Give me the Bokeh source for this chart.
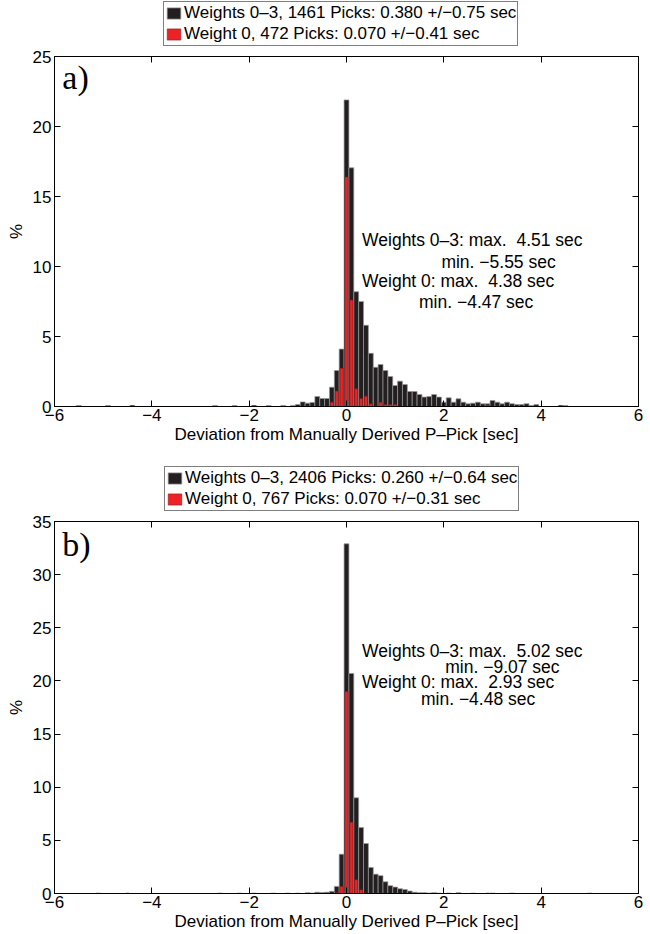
from bokeh.plotting import figure
from bokeh.models import Legend, LegendItem, Label, LinearAxis, FixedTicker, Range1d
from bokeh.layouts import column
from bokeh.embed import file_html
from bokeh.resources import INLINE

# ---------------- data (bin centres in sec, values in %) ----------------
a_all_x = [-5.5, -4.9, -4.4, -2.7, -2.3, -1.9, -1.6, -1.3, -1.1, -1.0, -0.9, -0.8, -0.7, -0.6,
           -0.5, -0.4, -0.3, -0.2, -0.1, 0.0, 0.1, 0.2, 0.3, 0.4, 0.5, 0.6, 0.7, 0.8, 0.9,
           1.0, 1.1, 1.2, 1.3, 1.4, 1.5, 1.6, 1.7, 1.8, 1.9, 2.0, 2.1, 2.2, 2.3, 2.4, 2.5,
           2.6, 2.7, 2.8, 2.9, 3.0, 3.1, 3.2, 3.3, 3.4, 3.5, 3.6, 3.7, 3.8, 3.9, 4.4, 4.5]
a_all_y = [0.07, 0.07, 0.07, 0.07, 0.07, 0.07, 0.07, 0.07, 0.07, 0.14, 0.33, 0.24, 0.29, 0.71,
           0.57, 0.57, 1.38, 2.57, 4.1, 21.9, 17.05, 8.2, 7.5, 5.8, 3.8, 2.8, 3.0, 2.57, 2.14,
           1.5, 1.81, 1.57, 1.07, 1.07, 0.86, 0.67, 0.71, 0.86, 0.67, 0.31, 0.62, 0.31, 0.55, 0.31, 0.19,
           0.24, 0.31, 0.19, 0.19, 0.43, 0.31, 0.19, 0.31, 0.2, 0.14, 0.14, 0.2, 0.07, 0.14, 0.07, 0.07]
a_w0_x = [-4.4, -1.9, -0.3, -0.2, -0.1, 0.0, 0.1, 0.2, 0.3, 0.4, 0.5, 0.7, 0.8, 0.9, 1.0, 2.9, 4.4]
a_w0_y = [0.07, 0.07, 0.31, 1.1, 2.74, 16.4, 7.6, 1.26, 0.57, 0.74, 0.19, 0.31, 0.14, 0.14, 0.14, 0.07, 0.07]

b_all_x = [-5.1, -2.6, -2.2, -1.9, -1.5, -1.2, -1.0, -0.8, -0.7, -0.6, -0.5, -0.4, -0.3, -0.2,
           -0.1, 0.0, 0.1, 0.2, 0.3, 0.4, 0.5, 0.6, 0.7, 0.8, 0.9, 1.0, 1.1, 1.2, 1.3, 1.4,
           1.5, 1.6, 1.7, 1.8, 1.9, 2.1, 2.3, 2.6, 3.0, 3.4, 5.0]
b_all_y = [0.04, 0.04, 0.04, 0.04, 0.04, 0.04, 0.04, 0.08, 0.04, 0.12, 0.1, 0.12, 0.2, 0.67,
           3.7, 32.9, 20.7, 9.0, 6.2, 4.7, 2.45, 1.82, 1.68, 1.1, 0.74, 0.6, 0.45, 0.38, 0.23, 0.12,
           0.08, 0.08, 0.04, 0.08, 0.04, 0.04, 0.08, 0.04, 0.04, 0.04, 0.04]
b_w0_x = [-4.5, -0.2, -0.1, 0.0, 0.1, 0.2, 0.3, 0.4, 0.5, 2.9]
b_w0_y = [0.04, 0.1, 0.67, 19.0, 6.7, 1.3, 0.35, 0.05, 0.04, 0.04]

x_ticks = [-6, -4, -2, 0, 2, 4, 6]
a_y_ticks = [0, 5, 10, 15, 20, 25]
b_y_ticks = [0, 5, 10, 15, 20, 25, 30, 35]

a_legend = ["Weights 0\u20133, 1461 Picks: 0.380 +/\u22120.75 sec",
            "Weight 0, 472 Picks: 0.070 +/\u22120.41 sec"]
b_legend = ["Weights 0\u20133, 2406 Picks: 0.260 +/\u22120.64 sec",
            "Weight 0, 767 Picks: 0.070 +/\u22120.31 sec"]
a_notes = ["Weights 0\u20133: max.\u00a0 4.51 sec", "min. \u22125.55 sec",
           "Weight 0: max.\u00a0 4.38 sec", "min. \u22124.47 sec"]
b_notes = ["Weights 0\u20133: max.\u00a0 5.02 sec", "min. \u22129.07 sec",
           "Weight 0: max.\u00a0 2.93 sec", "min. \u22124.48 sec"]

FONT = "Liberation Sans"
FS = "17px"
BLACK = "#231f20"
RED = "#ec2227"
BAR_ALL = dict(fill_color=BLACK, line_color="#9a9a9a", line_width=0.7)
BAR_W0 = dict(fill_color=RED, line_color="#7a1a1a", line_width=0.5)


def tick_fmt(ax, ticks):
    ax.major_label_overrides = {t: (("\u2212" + str(-t)) if t < 0 else str(t)) for t in ticks}


def make_header(height, leg, leg_x, leg_y):
    h = figure(width=650, height=height, x_range=Range1d(0, 1), y_range=Range1d(0, 1),
               x_axis_type=None, y_axis_type=None, output_backend="svg", toolbar_location=None,
               min_border=0, outline_line_color=None)
    h.xgrid.visible = False
    h.ygrid.visible = False
    # legend key renderers: one bar each, placed below the visible range
    k1 = h.vbar(x=[0.5], bottom=[-3], top=[-2], width=0.1, **BAR_ALL)
    k2 = h.vbar(x=[0.5], bottom=[-3], top=[-2], width=0.1, **BAR_W0)
    legend = Legend(items=[LegendItem(label=leg[0], renderers=[k1]),
                           LegendItem(label=leg[1], renderers=[k2])],
                    location=(leg_x, leg_y), orientation="vertical",
                    label_text_font=FONT, label_text_font_size=FS, label_text_color="black",
                    label_height=17, glyph_height=14, glyph_width=17, label_standoff=2,
                    spacing=1, padding=1, margin=0,
                    border_line_color="black", border_line_width=1, background_fill_alpha=1)
    h.add_layout(legend)
    return h


def make_panel(height, top, bottom, ymax, yticks, all_x, all_y, w0_x, w0_y, notes, note_pos,
               tag, tag_y):
    p = figure(width=650, height=height, x_range=Range1d(-6, 6), y_range=Range1d(0, ymax),
               output_backend="svg", toolbar_location=None,
               min_border_left=54, min_border_right=12, min_border_top=top, min_border_bottom=bottom,
               x_axis_label="Deviation from Manually Derived P\u2013Pick [sec]", y_axis_label="%")
    p.xgrid.visible = False
    p.ygrid.visible = False
    p.outline_line_color = "black"
    p.outline_line_width = 1

    p.vbar(x=all_x, top=all_y, width=0.1, **BAR_ALL)
    p.vbar(x=w0_x, top=w0_y, width=0.065, **BAR_W0)

    p.xaxis.ticker = FixedTicker(ticks=x_ticks)
    p.yaxis.ticker = FixedTicker(ticks=yticks)
    tick_fmt(p.xaxis[0], x_ticks)
    tick_fmt(p.yaxis[0], yticks)
    for ax in [p.xaxis[0], p.yaxis[0]]:
        ax.major_tick_in = 6
        ax.major_tick_out = 0
        ax.minor_tick_line_color = None
        ax.axis_line_color = "black"
        ax.major_tick_line_color = "black"
        ax.major_label_text_font = FONT
        ax.major_label_text_font_size = FS
        ax.major_label_text_color = "black"
        ax.axis_label_text_font = FONT
        ax.axis_label_text_font_size = FS
        ax.axis_label_text_font_style = "normal"
        ax.axis_label_text_color = "black"
    p.xaxis.major_label_standoff = 2
    p.xaxis.axis_label_standoff = 1
    p.yaxis.major_label_standoff = 3
    p.yaxis.axis_label_standoff = 4

    # mirrored ticks on the right and top
    ra = LinearAxis(ticker=FixedTicker(ticks=yticks), major_tick_in=6, major_tick_out=0,
                    major_label_overrides={t: "" for t in yticks}, major_label_standoff=0,
                    minor_tick_line_color=None, axis_line_color="black")
    p.add_layout(ra, "right")
    ta = LinearAxis(ticker=FixedTicker(ticks=x_ticks), major_tick_in=6, major_tick_out=0,
                    major_label_overrides={t: "" for t in x_ticks}, major_label_standoff=0,
                    minor_tick_line_color=None, axis_line_color="black")
    p.add_layout(ta, "above")

    for (txt, (nx, ny)) in zip(notes, note_pos):
        p.add_layout(Label(x=nx, y=ny, text=txt, text_font=FONT, text_font_size="17.5px",
                           text_color="black", text_baseline="middle", text_align="left"))
    p.add_layout(Label(x=-5.84, y=tag_y, text=tag, text_font="Liberation Serif",
                       text_font_size="34px", text_color="black", text_baseline="top"))
    return p


ha = make_header(46, a_legend, 109, 0)
pa = make_panel(414, 10, 54, 25, a_y_ticks, a_all_x, a_all_y, a_w0_x, a_w0_y, a_notes,
                [(0.32, 11.86), (1.95, 10.3), (0.32, 9.0), (1.49, 7.45)], "a)", 24.8)
hb = make_header(51, b_legend, 110, 0)
pb = make_panel(423, 10, 41, 35, b_y_ticks, b_all_x, b_all_y, b_w0_x, b_w0_y, b_notes,
                [(0.32, 22.85), (2.03, 21.28), (0.32, 19.88), (1.53, 18.32)], "b)", 34.6)

layout = column(ha, pa, hb, pb, spacing=0)
open("out.html", "w").write(file_html(layout, INLINE))
